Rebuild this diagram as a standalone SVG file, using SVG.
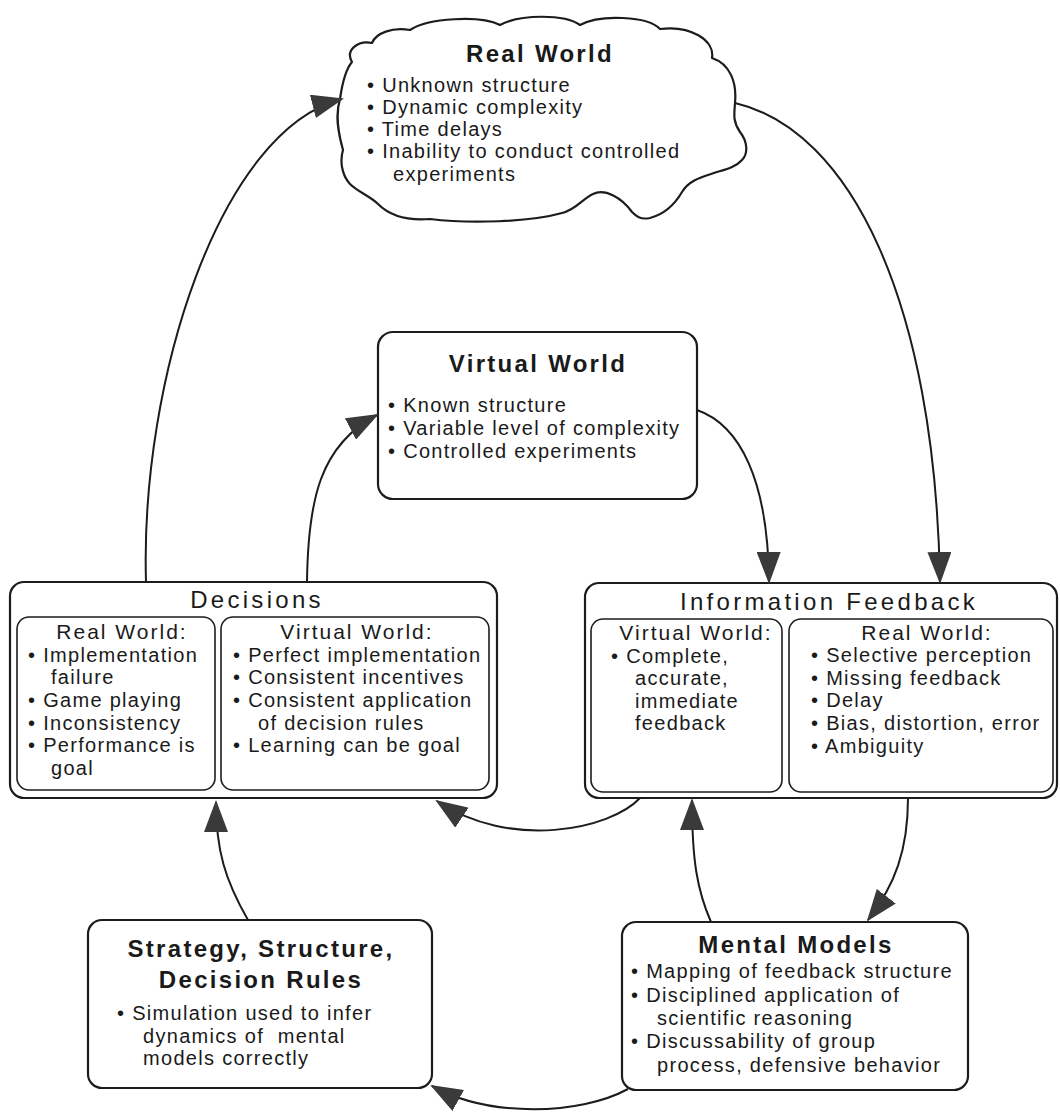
<svg xmlns="http://www.w3.org/2000/svg" width="1060" height="1116" viewBox="0 0 1060 1116">
<style>
.box{fill:#fff;stroke:#1c1c1c;stroke-width:2.2}
.inner{fill:none;stroke:#1c1c1c;stroke-width:1.6}
.cloud{fill:#fff;stroke:#1c1c1c;stroke-width:2.2;stroke-linejoin:round}
text{font-family:"Liberation Sans",Arial,Helvetica,sans-serif;fill:#1a1a1a}
.title{font-size:24px;font-weight:bold;letter-spacing:2.3px;text-anchor:middle}
.htitle{font-size:24px;letter-spacing:3.3px;text-anchor:middle}
.sub{font-size:21px;letter-spacing:2px;text-anchor:middle}
.txt{font-size:20px;letter-spacing:1.3px}
.conn{fill:none;stroke:#1c1c1c;stroke-width:2;marker-end:url(#ah)}
</style>
<defs>
<marker id="ah" markerUnits="userSpaceOnUse" markerWidth="32" markerHeight="24" viewBox="0 0 32 24" refX="30" refY="12" orient="auto">
<path d="M0,0 L32,12 L0,24 Z" fill="#3a3a3a"/>
</marker>
</defs>
<rect width="1060" height="1116" fill="#fff"/>

<g id="real-world">
<path class="cloud" d="M352,62 C345,50 358,40 372,43 C376,33 392,27 410,30 C428,18 480,15 500,25 C520,14 565,14 580,25 C600,14 648,16 660,29 C690,25 715,40 712,58 C730,64 737,82 735,103 C734,115 733,122 740,132 C748,142 748,154 742,160 C735,168 722,170 711,174 C698,178 688,182 682,192 C675,204 665,214 650,218 C640,220 636,216 632,212 C622,198 605,188 593,194 C582,199 576,210 562,213 C530,222 470,224 430,219 C405,221 388,214 378,204 C370,196 358,192 350,184 C341,174 340,160 343,150 C338,132 335,115 340,99 C342,85 345,70 352,62 Z"/>
<text class="title" x="540" y="62">Real World</text>
<text class="txt" x="367" y="92">• Unknown structure</text>
<text class="txt" x="367" y="114">• Dynamic complexity</text>
<text class="txt" x="367" y="136">• Time delays</text>
<text class="txt" x="367" y="158">• Inability to conduct controlled</text>
<text class="txt" x="393" y="181">experiments</text>
</g>

<g id="virtual-world">
<rect class="box" x="378" y="332" width="319" height="167" rx="15"/>
<text class="title" x="538" y="372">Virtual World</text>
<text class="txt" x="388" y="412">• Known structure</text>
<text class="txt" x="388" y="435">• Variable level of complexity</text>
<text class="txt" x="388" y="458">• Controlled experiments</text>
</g>

<g id="decisions">
<rect class="box" x="10" y="582" width="487" height="216" rx="14"/>
<text class="htitle" x="257" y="608">Decisions</text>
<rect class="inner" x="17" y="617" width="198" height="173" rx="12"/>
<rect class="inner" x="221" y="617" width="268" height="173" rx="12"/>
<text class="sub" x="122" y="639">Real World:</text>
<text class="txt" x="28" y="662">• Implementation</text>
<text class="txt" x="51" y="684">failure</text>
<text class="txt" x="28" y="707">• Game playing</text>
<text class="txt" x="28" y="730">• Inconsistency</text>
<text class="txt" x="28" y="752">• Performance is</text>
<text class="txt" x="51" y="775">goal</text>
<text class="sub" x="357" y="639">Virtual World:</text>
<text class="txt" x="233" y="662">• Perfect implementation</text>
<text class="txt" x="233" y="684">• Consistent incentives</text>
<text class="txt" x="233" y="707">• Consistent application</text>
<text class="txt" x="258" y="730">of decision rules</text>
<text class="txt" x="233" y="752">• Learning can be goal</text>
</g>

<g id="information-feedback">
<rect class="box" x="585" y="583" width="472" height="215" rx="14"/>
<text class="htitle" x="829" y="610">Information Feedback</text>
<rect class="inner" x="591" y="619" width="191" height="173" rx="12"/>
<rect class="inner" x="789" y="619" width="264" height="173" rx="12"/>
<text class="sub" x="696" y="640">Virtual World:</text>
<text class="txt" x="611" y="663">• Complete,</text>
<text class="txt" x="635" y="685">accurate,</text>
<text class="txt" x="635" y="708">immediate</text>
<text class="txt" x="635" y="730">feedback</text>
<text class="sub" x="927" y="640">Real World:</text>
<text class="txt" x="811" y="662">• Selective perception</text>
<text class="txt" x="811" y="685">• Missing feedback</text>
<text class="txt" x="811" y="707">• Delay</text>
<text class="txt" x="811" y="730">• Bias, distortion, error</text>
<text class="txt" x="811" y="753">• Ambiguity</text>
</g>

<g id="strategy">
<rect class="box" x="88" y="920" width="344" height="168" rx="14"/>
<text class="title" x="261" y="957">Strategy, Structure,</text>
<text class="title" x="261" y="988">Decision Rules</text>
<text class="txt" x="117" y="1020">• Simulation used to infer</text>
<text class="txt" x="143" y="1043" xml:space="preserve">dynamics of  mental</text>
<text class="txt" x="143" y="1065">models correctly</text>
</g>

<g id="mental-models">
<rect class="box" x="622" y="922" width="346" height="168" rx="14"/>
<text class="title" x="796" y="953">Mental Models</text>
<text class="txt" x="631" y="978">• Mapping of feedback structure</text>
<text class="txt" x="631" y="1002">• Disciplined application of</text>
<text class="txt" x="657" y="1025">scientific reasoning</text>
<text class="txt" x="631" y="1048">• Discussability of group</text>
<text class="txt" x="657" y="1072">process, defensive behavior</text>
</g>

<g id="connectors">
<path class="conn" d="M146,582 C140,380 220,130 342,99"/>
<path class="conn" d="M307,582 C308,500 320,445 377,415"/>
<path class="conn" d="M697,410 C740,425 768,480 769,582"/>
<path class="conn" d="M735,103 C850,130 935,300 940,582"/>
<path class="conn" d="M640,798 C610,830 510,850 437,801"/>
<path class="conn" d="M711,922 C697,890 692,860 692,800"/>
<path class="conn" d="M908,798 C908,850 895,885 868,920"/>
<path class="conn" d="M628,1089 C580,1115 490,1118 432,1086"/>
<path class="conn" d="M248,920 C225,880 216,850 216,802"/>
</g>
</svg>
